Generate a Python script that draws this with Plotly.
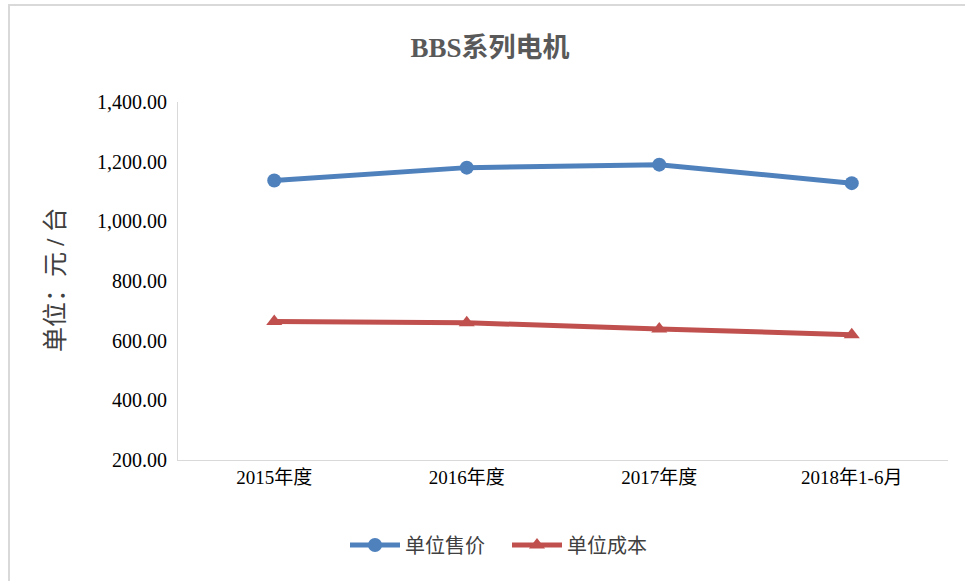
import plotly.graph_objects as go

categories = ["2015年度", "2016年度", "2017年度", "2018年1-6月"]
unit_price = [1137, 1180, 1190, 1128]
unit_cost = [664, 660, 639, 620]
y_ticks = [200, 400, 600, 800, 1000, 1200, 1400]

W, H = 965, 581
L, R, T, B = 178, 17, 102, 121
pw, ph = W - L - R, H - T - B

def px(x):
    return (x - L) / pw

def py(y):
    return (H - B - y) / ph

font_main = "Liberation Serif, Times New Roman, Noto Sans CJK SC, serif"

fig = go.Figure()
fig.add_trace(go.Scatter(
    x=categories, y=unit_price, name="单位售价", mode="lines+markers",
    line=dict(color="#4f81bd", width=5),
    marker=dict(symbol="circle", size=14, color="#4f81bd"),
))
fig.add_trace(go.Scatter(
    x=categories, y=unit_cost, name="单位成本", mode="lines+markers",
    line=dict(color="#c0504d", width=5),
    marker=dict(symbol="triangle-up", size=14, color="#c0504d"),
))

fig.update_layout(
    width=W, height=H,
    margin=dict(l=L, r=R, t=T, b=B),
    paper_bgcolor="white", plot_bgcolor="white",
    font=dict(family=font_main, size=20, color="#404040"),
    title=dict(text="<b>BBS系列电机</b>", xref="container", x=490 / W, xanchor="center",
               yref="container", y=1 - 48 / H, yanchor="middle",
               font=dict(family=font_main, size=27, color="#595959")),
    showlegend=True,
    legend=dict(orientation="h", x=px(345), y=py(545), xanchor="left", yanchor="middle",
                font=dict(family=font_main, size=20, color="#404040"),
                itemwidth=50, entrywidth=97, entrywidthmode="pixels",
                bgcolor="rgba(0,0,0,0)"),
    xaxis=dict(type="category", range=[-0.5, 3.5], showgrid=False, showline=True,
               linecolor="#d9d9d9", linewidth=1, ticks="", zeroline=False,
               tickfont=dict(size=19, color="#000000")),
    yaxis=dict(range=[200, 1400], tickvals=y_ticks, tickformat=",.2f", showgrid=False,
               showline=True, linecolor="#d9d9d9", linewidth=1, ticks="", zeroline=False,
               ticklabelstandoff=6,
               tickfont=dict(size=20, color="#000000")),
    shapes=[dict(type="rect", xref="paper", yref="paper",
                 x0=px(9), x1=px(975), y0=py(595), y1=py(5),
                 line=dict(color="#d9d9d9", width=2), fillcolor="rgba(0,0,0,0)", layer="above")],
    annotations=[dict(text="单位：元 <b>/</b> 台", textangle=-90, xref="paper", yref="paper",
                      x=px(55), y=py(280), xanchor="center", yanchor="middle", showarrow=False,
                      font=dict(family=font_main, size=25, color="#404040"))],
)

fig.write_html("out.html", config={"displayModeBar": False},
               post_script="document.body.style.margin='0';")
